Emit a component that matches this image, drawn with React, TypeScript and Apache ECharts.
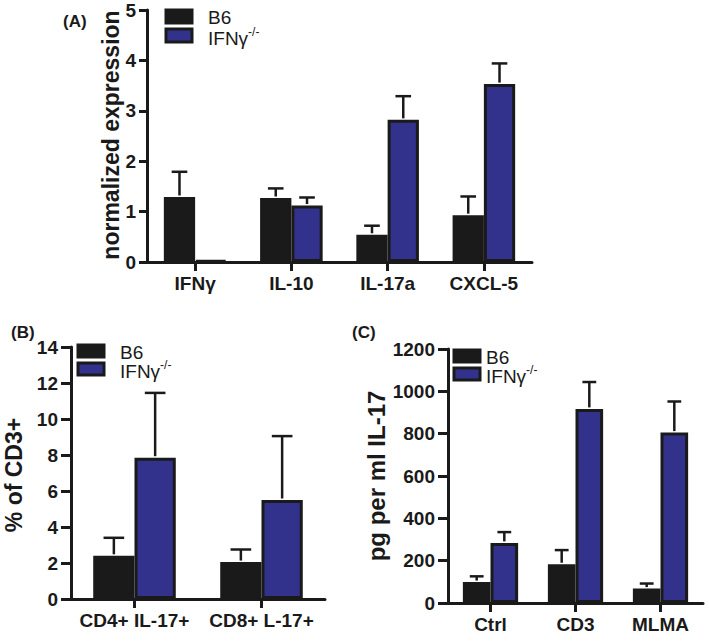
import React, { useEffect, useRef } from "react";
import * as echarts from "echarts";

const seriesNames = ["B6", "IFNγ-/-"];

const catsA = ["IFNγ", "IL-10", "IL-17a", "CXCL-5"];
const b6A = [1.29, 1.27, 0.54, 0.93];
const b6ErrA = [1.79, 1.46, 0.72, 1.3];
const koA = [0.03, 1.12, 2.82, 3.53];
const koErrA = [0.03, 1.28, 3.29, 3.94];

const catsB = ["CD4+ IL-17+", "CD8+ L-17+"];
const b6B = [2.4, 2.05];
const b6ErrB = [3.4, 2.75];
const koB = [7.85, 5.5];
const koErrB = [11.45, 9.05];

const catsC = ["Ctrl", "CD3", "MLMA"];
const b6C = [99, 183, 68];
const b6ErrC = [126, 250, 92];
const koC = [284, 917, 805];
const koErrC = [335, 1044, 952];

const BLACK = "#1a1a1a";
const BLUE = "#32328c";
const GAP = 0.35;
const FONT = "'Liberation Sans', Arial, sans-serif";

export default function App() {
  const ref = useRef<HTMLDivElement>(null);
  useEffect(() => {
    document.body.style.margin = "0";
    const chart = echarts.init(ref.current!, null, { renderer: "svg" });

    const grids = [
      { left: 147, top: 10, width: 385, height: 252 },
      { left: 71, top: 347, width: 254, height: 252 },
      { left: 448, top: 349, width: 255, height: 254 },
    ];
    const cats = [catsA, catsB, catsC];
    const yCfg = [
      { max: 5, interval: 1, title: "normalized expression", tsize: 23, tx: 111, ty: 135, tick: 8, font: 19 },
      { max: 14, interval: 2, title: "% of CD3+", tsize: 23, tx: 14, ty: 475, tick: 10, font: 19 },
      { max: 1200, interval: 200, title: "pg per ml IL-17", tsize: 24, tx: 376, ty: 476, tick: 10, font: 19 },
    ];
    const data = [
      [b6A, b6ErrA, koA, koErrA],
      [b6B, b6ErrB, koB, koErrB],
      [b6C, b6ErrC, koC, koErrC],
    ];

    const axisLine = { show: true, lineStyle: { color: BLACK, width: 3 } };

    const xAxis = cats.map((c, i) => ({
      type: "category",
      gridIndex: i,
      data: c,
      axisLine,
      axisTick: { show: true, alignWithLabel: true, length: 9, lineStyle: { color: BLACK, width: 3 } },
      axisLabel: { color: BLACK, fontWeight: "bold", fontSize: 19, fontFamily: FONT, margin: 12, interval: 0 },
      splitLine: { show: false },
    }));

    const yAxis = yCfg.map((y, i) => ({
      type: "value",
      gridIndex: i,
      min: 0,
      max: y.max,
      interval: y.interval,
      axisLine,
      axisTick: { show: true, length: y.tick, lineStyle: { color: BLACK, width: 3 } },
      axisLabel: {
        color: BLACK,
        fontWeight: "bold",
        fontSize: y.font,
        fontFamily: FONT,
        margin: y.tick + 3,
        formatter: (v: number) => String(v),
      },
      splitLine: { show: false },
    }));

    const series: any[] = [];
    data.forEach((d, i) => {
      const [b6, b6e, ko, koe] = d;
      [b6, ko].forEach((vals, k) => {
        series.push({
          type: "bar",
          name: seriesNames[k],
          xAxisIndex: i,
          yAxisIndex: i,
          data: vals,
          barGap: "0%",
          barCategoryGap: GAP * 100 + "%",
          itemStyle: { color: k === 0 ? BLACK : BLUE, borderColor: BLACK, borderWidth: 3 },
          z: 2,
        });
      });
      const errData: number[][] = [];
      b6.forEach((v, c) => errData.push([c, v, b6e[c], 0]));
      ko.forEach((v, c) => errData.push([c, v, koe[c], 1]));
      series.push({
        type: "custom",
        xAxisIndex: i,
        yAxisIndex: i,
        data: errData,
        encode: { x: 0, y: [1, 2] },
        z: 3,
        renderItem: (params: any, api: any) => {
          const cat = api.value(0);
          const mean = api.value(1);
          const top = api.value(2);
          const s = api.value(3);
          if (top <= mean) return null;
          const band = api.size([1, 0])[0];
          const barW = (band * (1 - GAP)) / 2;
          const base = api.coord([cat, mean]);
          const hi = api.coord([cat, top]);
          const cx = base[0] + (s === 0 ? -barW / 2 : barW / 2);
          const capHalf = barW * 0.25;
          const style = { stroke: BLACK, lineWidth: 2.5 };
          return {
            type: "group",
            children: [
              { type: "line", shape: { x1: cx, y1: base[1] - 1.5, x2: cx, y2: hi[1] }, style },
              { type: "line", shape: { x1: cx - capHalf, y1: hi[1], x2: cx + capHalf, y2: hi[1] }, style },
            ],
          };
        },
      });
    });

    const legendPos = [
      { x: 166, y: 10, h: 13, gap: 19, tx: 208 },
      { x: 78, y: 345, h: 12, gap: 18, tx: 120 },
      { x: 454, y: 350, h: 12, gap: 18, tx: 486 },
    ];
    const panelLabels = [
      { t: "(A)", x: 63, y: 21 },
      { t: "(B)", x: 11, y: 332 },
      { t: "(C)", x: 352, y: 332 },
    ];

    const graphic: any[] = [];
    legendPos.forEach((p) => {
      [BLACK, BLUE].forEach((col, k) => {
        graphic.push({
          type: "rect",
          shape: { x: p.x, y: p.y + k * p.gap, width: 26, height: p.h },
          style: { fill: col, stroke: BLACK, lineWidth: 3 },
        });
      });
      graphic.push({
        type: "text",
        x: p.tx,
        y: p.y + p.h / 2 + 1,
        style: { text: seriesNames[0], fill: BLACK, fontSize: 19, fontFamily: FONT, verticalAlign: "middle" },
      });
      graphic.push({
        type: "text",
        x: p.tx,
        y: p.y + p.gap + p.h / 2 + 1,
        style: {
          text: "{m|IFNγ}{s|-/-}",
          verticalAlign: "middle",
          rich: {
            m: { fontSize: 19, fontFamily: FONT, fill: BLACK, verticalAlign: "bottom", lineHeight: 22 },
            s: { fontSize: 12, fontFamily: FONT, fill: BLACK, verticalAlign: "top", lineHeight: 22 },
          },
        },
      });
    });
    panelLabels.forEach((l) => {
      graphic.push({
        type: "text",
        x: l.x,
        y: l.y,
        style: { text: l.t, fill: BLACK, fontSize: 17, fontWeight: "bold", fontFamily: FONT, verticalAlign: "middle" },
      });
    });
    yCfg.forEach((y) => {
      graphic.push({
        type: "text",
        x: y.tx,
        y: y.ty,
        rotation: Math.PI / 2,
        style: {
          text: y.title,
          fill: BLACK,
          fontSize: y.tsize,
          fontWeight: "bold",
          fontFamily: FONT,
          align: "center",
          verticalAlign: "middle",
        },
      });
    });

    chart.setOption({
      animation: false,
      backgroundColor: "#ffffff",
      grid: grids,
      xAxis,
      yAxis,
      series,
      graphic,
    });
    return () => chart.dispose();
  }, []);
  return <div ref={ref} style={{ width: 709, height: 641 }} />;
}
